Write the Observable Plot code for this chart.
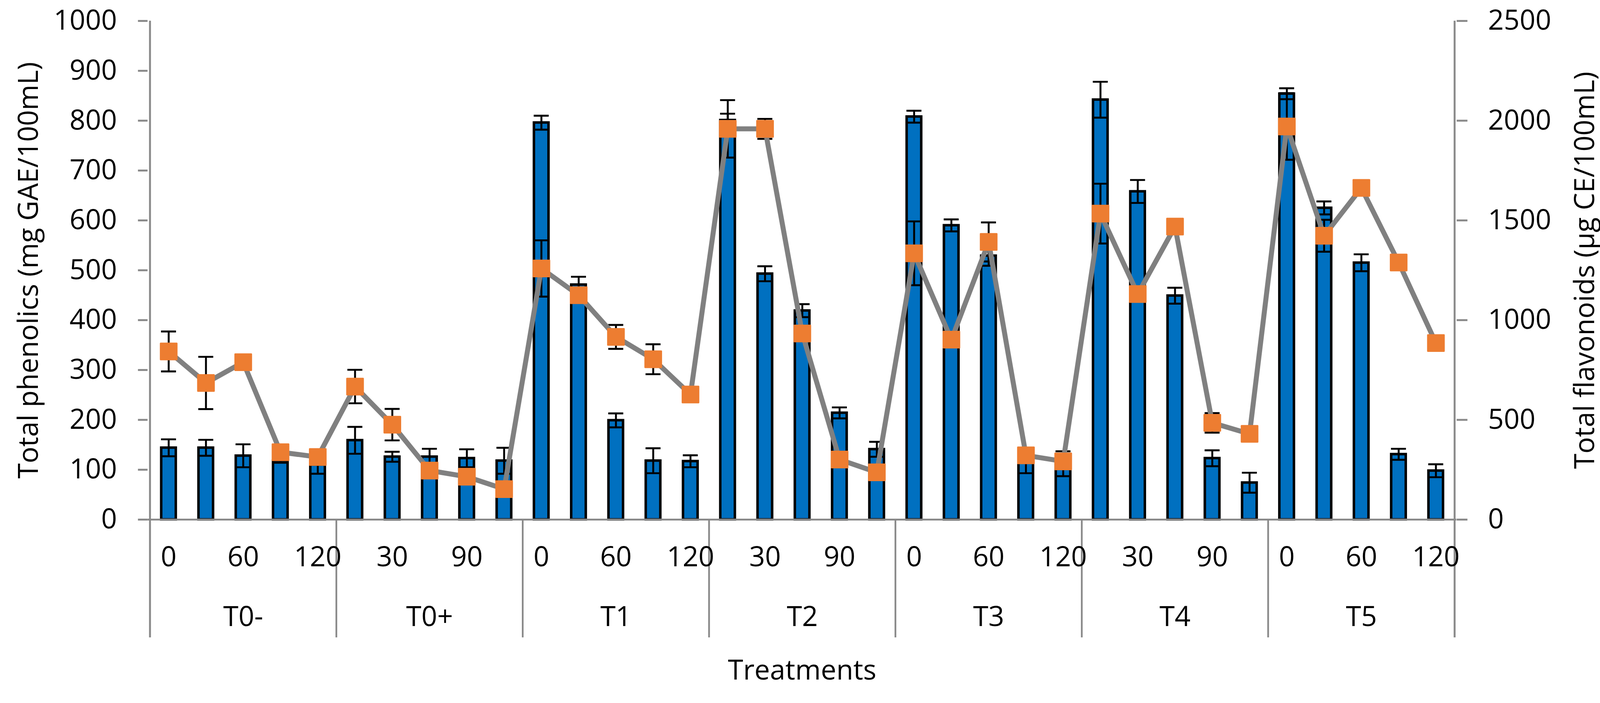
<!DOCTYPE html>
<html>
<head>
<meta charset="utf-8">
<script src="https://cdn.jsdelivr.net/npm/d3@7"></script>
<script src="https://cdn.jsdelivr.net/npm/@observablehq/plot@0.6"></script>
<style>
  html, body { margin: 0; padding: 0; background: #ffffff; }
  #chart svg { display: block; }
</style>
</head>
<body>
<div id="chart"></div>
<script>
// ---- data ----
const treatments = ["T0-", "T0+", "T1", "T2", "T3", "T4", "T5"];
const times = [0, 30, 60, 90, 120];

// Total phenolics (mg GAE/100mL) – bars, left axis
const phenolics = [
  144, 144, 128, 118, 110,
  159, 126, 126, 123, 118,
  796, 471, 199, 118, 117,
  801, 493, 419, 214, 141,
  808, 590, 529, 115, 112,
  842, 658, 449, 123, 74,
  854, 625, 515, 131, 98
];
const phenolicsErr = [
  17, 16, 23, 4, 18,
  27, 10, 16, 18, 26,
  14, 16, 14, 25, 12,
  13, 15, 13, 11, 15,
  12, 12, 20, 22, 25,
  36, 23, 16, 16, 20,
  11, 13, 17, 11, 13
];

// Total flavonoids (µg CE/100mL) – line, right axis
const flavonoids = [
  843, 685, 789, 338, 314,
  667, 476, 246, 215, 153,
  1259, 1125, 916, 804, 627,
  1959, 1959, 933, 301, 237,
  1335, 902, 1392, 322, 292,
  1534, 1131, 1469, 485, 430,
  1971, 1423, 1663, 1289, 885
];
const flavonoidsErr = [
  100, 131, 20, 20, 20,
  84, 79, 20, 20, 20,
  141, 20, 60, 75, 20,
  144, 50, 20, 20, 20,
  160, 20, 98, 20, 20,
  150, 20, 20, 49, 20,
  167, 80, 20, 20, 20
];

const leftTicks = [0, 100, 200, 300, 400, 500, 600, 700, 800, 900, 1000];
const rightTicks = [0, 500, 1000, 1500, 2000, 2500];

const leftTitle = "Total phenolics (mg GAE/100mL)";
const rightTitle = "Total flavonoids (µg CE/100mL)";
const xTitle = "Treatments";

// ---- build table ----
const rows = [];
treatments.forEach((t, gi) => times.forEach((m, ti) => {
  const i = gi * times.length + ti;
  rows.push({
    key: t + "|" + m, treatment: t, time: m, i,
    phen: phenolics[i], phenErr: phenolicsErr[i],
    flav: flavonoids[i], flavErr: flavonoidsErr[i]
  });
}));

// ---- layout ----
const W = 4164, H = 1800;
const ML = 384, MR = 374, MT = 54, MB = 448;
const bw = (W - ML - MR) / rows.length;
const k = 1000 / 2500; // right axis -> left axis ratio
const axisGray = "#898989";
const FS = 72;
const ERR_W = 5;
const below = -236.6; // separator depth expressed on the left scale

const plot = Plot.plot({
  width: W,
  height: H,
  marginLeft: ML,
  marginRight: MR,
  marginTop: MT,
  marginBottom: MB,
  style: { fontFamily: "'Open Sans', sans-serif", fontSize: FS + "px", color: "black", background: "white", overflow: "visible" },
  x: { type: "band", domain: rows.map(d => d.key), padding: 0, axis: null },
  y: { domain: [0, 1000], axis: null },
  marks: [
    // bars
    Plot.barY(rows, { x: "key", y: "phen", fill: "#0070C0", stroke: "black", strokeWidth: 6.5, insetLeft: 29.5, insetRight: 29.5 }),
    // bar error bars
    Plot.ruleX(rows, { x: "key", y1: d => d.phen - d.phenErr, y2: d => d.phen + d.phenErr, stroke: "black", strokeWidth: ERR_W }),
    Plot.tickY(rows, { x: "key", y: d => d.phen + d.phenErr, stroke: "black", strokeWidth: ERR_W, insetLeft: 29, insetRight: 29 }),
    Plot.tickY(rows, { x: "key", y: d => d.phen - d.phenErr, stroke: "black", strokeWidth: ERR_W, insetLeft: 29, insetRight: 29 }),
    // flavonoid error bars
    Plot.ruleX(rows, { x: "key", y1: d => (d.flav - d.flavErr) * k, y2: d => (d.flav + d.flavErr) * k, stroke: "black", strokeWidth: ERR_W }),
    Plot.tickY(rows, { x: "key", y: d => (d.flav + d.flavErr) * k, stroke: "black", strokeWidth: ERR_W, insetLeft: 29, insetRight: 29 }),
    Plot.tickY(rows, { x: "key", y: d => (d.flav - d.flavErr) * k, stroke: "black", strokeWidth: ERR_W, insetLeft: 29, insetRight: 29 }),
    // flavonoid line + markers
    Plot.line(rows, { x: "key", y: d => d.flav * k, stroke: "#808080", strokeWidth: 13, strokeLinejoin: "round" }),
    Plot.dot(rows, { x: "key", y: d => d.flav * k, symbol: "square", r: 23.7, fill: "#ED7D31", stroke: "#ED7D31", strokeWidth: 4, strokeLinejoin: "round" }),

    // axes lines
    Plot.ruleY([0], { stroke: axisGray, strokeWidth: 5 }),
    Plot.ruleX([rows[0].key], { x: d => d, dx: -bw / 2, y1: below, y2: 1000, stroke: axisGray, strokeWidth: 5 }),
    Plot.ruleX([rows[rows.length - 1].key], { x: d => d, dx: bw / 2, y1: below, y2: 1000, stroke: axisGray, strokeWidth: 5 }),
    // group separators
    Plot.ruleX(treatments.slice(1), { x: t => t + "|0", dx: -bw / 2, y1: below, y2: 0, stroke: axisGray, strokeWidth: 4.5 }),

    // left axis
    Plot.axisY({ anchor: "left", ticks: leftTicks, tickFormat: v => String(v), tickSize: 25, tickPadding: 55, stroke: axisGray, strokeWidth: 5, fill: "black", fontSize: FS, label: null }),
    // right axis
    Plot.axisY({ anchor: "right", ticks: rightTicks.map(v => v * k), tickFormat: v => String(Math.round(v / k)), tickSize: 28, tickPadding: 54, stroke: axisGray, strokeWidth: 5, fill: "black", fontSize: FS, label: null }),

    // x tick labels (Excel shows every other category)
    Plot.text(rows.filter(d => d.i % 2 === 0), { x: "key", y: 0, dy: 99, text: d => String(d.time), fontSize: FS, fill: "black" }),
    // group labels
    Plot.text(treatments, { x: t => t + "|60", y: 0, dy: 254, text: t => t, fontSize: FS, fill: "black" }),

    // axis titles
    Plot.text([leftTitle], { frameAnchor: "left", dx: -309, rotate: -90, textAnchor: "middle", lineAnchor: "middle", text: d => d, fontSize: FS, fill: "black" }),
    Plot.text([rightTitle], { frameAnchor: "right", dx: 335, rotate: -90, textAnchor: "middle", lineAnchor: "middle", text: d => d, fontSize: FS, fill: "black" }),
    Plot.text([xTitle], { frameAnchor: "bottom", dy: 393, textAnchor: "middle", lineAnchor: "middle", text: d => d, fontSize: FS, fill: "black" })
  ]
});

document.getElementById("chart").appendChild(plot);
</script>
</body>
</html>
